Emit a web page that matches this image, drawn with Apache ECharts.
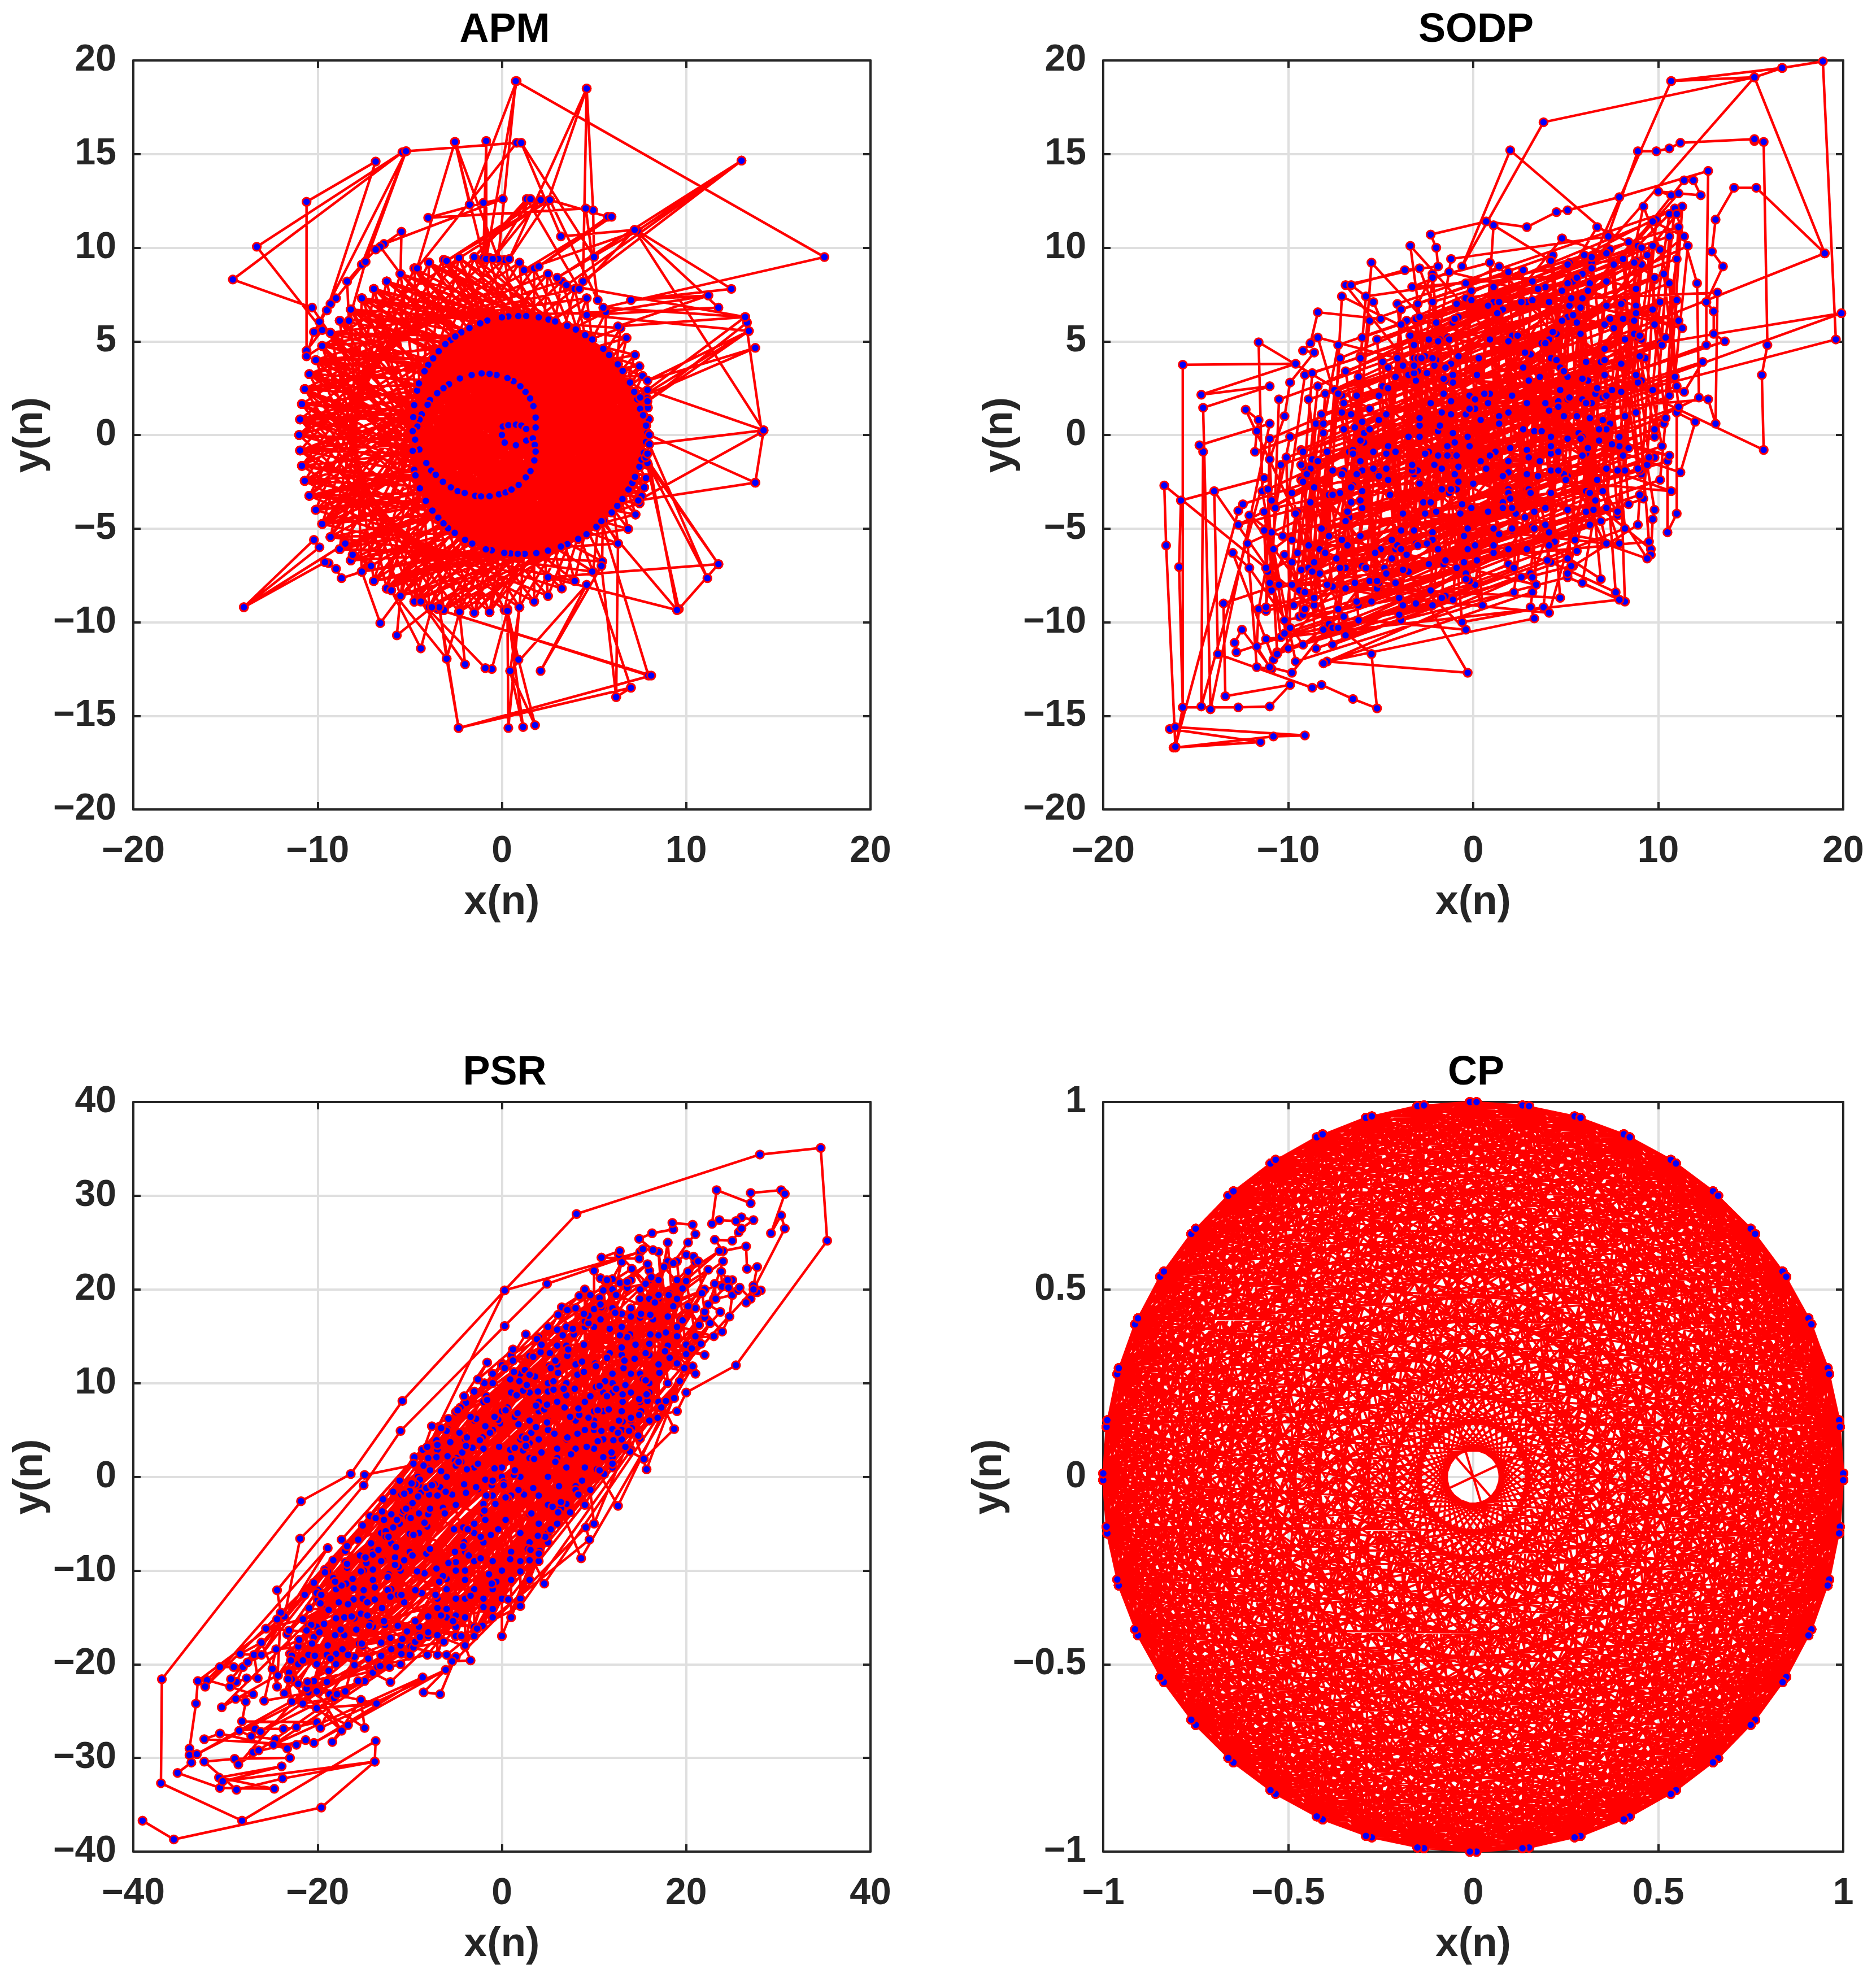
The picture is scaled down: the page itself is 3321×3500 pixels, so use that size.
<!DOCTYPE html>
<html><head><meta charset="utf-8">
<style>html,body{margin:0;padding:0;background:#fff}#c{width:3321px;height:3500px}</style>
<script src="https://cdn.jsdelivr.net/npm/echarts@6/dist/echarts.min.js"></script></head>
<body><div id="c"></div>
<script>
const panelTitles=['APM','SODP','PSR','CP'];
// APM: points as x,y pairs
const apmSpiral=[0,0,.15,-.41,.76,-.55,.05,.45,.35,.52,.76,.55,1.06,.5,1.32,.32,1.32,-.3,1.68,-.18,1.78,-.53,1.83,.4,1.83,.93,1.71,1.54,1.53,1.95,1.28,2.3,1,2.6,.63,2.87,.3,3.04,-.29,3.2,-.67,3.26,-1.1,3.29,-1.64,3.2,-2.28,3.02,-2.87,2.71,-3.17,2.5,-3.51,2.23,-3.9,1.86,-4.03,1.61,-4.35,1.1,-4.47,.82,-4.59,.45,-4.71,-.25,-4.48,-.78,-4.1,-1.5,-3.84,-1.9,-3.59,-2.13,-3.2,-2.5,-2.77,-2.8,-2.4,-3,-2.02,-3.1,-1.45,-3.25,-1.13,-3.28,-.67,-3.27,-.16,-3.17,.2,-3.07,.52,-2.92,.91,-2.67,1.3,-2.26,1.55,-1.93,1.76,-1.36,1.83,-.89];
const apmMid=[7.89,.1,7.82,.5,7.66,1.05,7.5,1.4,7.35,1.9,7.18,2.3,6.95,2.8,6.55,3.42,6.29,3.77,5.82,4.27,5.5,4.6,4.9,5.1,4.52,5.33,4.01,5.63,3.54,5.83,2.89,6.06,2.53,6.16,2,6.28,1.32,6.35,.89,6.35,.35,6.33,0,6.28,-.79,6.11,-1.18,5.96,-1.76,5.71,-2.2,5.48,-2.53,5.26,-2.78,5.07,-3.07,4.85,-3.43,4.47,-3.73,4.09,-4,3.74,-4.2,3.4,-4.5,2.75,-4.6,2.37,-4.76,1.59,-4.81,.95,-4.84,.2,-4.84,-.85,-4.76,-1.86,-4.69,-2.16,-4.45,-2.85,-4.13,-3.52,-3.77,-4.04,-3.45,-4.42,-3.17,-4.72,-2.92,-4.98,-2.56,-5.23,-2,-5.6,-1.61,-5.8,-.87,-6.11,-.55,-6.16,.13,-6.3,.48,-6.33,.86,-6.35,1.24,-6.35,1.87,-6.31,2.5,-6.18,3.2,-5.96,3.55,-5.83,4.14,-5.55,4.59,-5.3,5.13,-4.9,5.52,-4.57,5.96,-4.14,6.26,-3.79,6.54,-3.42,6.87,-2.91,7.08,-2.56,7.22,-2.24,7.46,-1.7,7.58,-1.31,7.7,-.95,7.82,-.37];
const apmMidOrder=[0,1,73,2,72,3,71,4,70,5,69,6,68,7,67,8,66,9,65,10,64,11,63,12,62,13,61,14,60,15,59,16,58,17,57,18,56,19,55,20,54,21,53,22,52,23,51,24,50,25,49,26,48,27,47,28,46,29,45,30,44,31,43,32,42,33,41,34,40,35,39,36,38,37,
6,7,5,8,4,9,3,10,2,11,1,12,0,13,73,14,72,15,71,16,70,17,69,18,68,19,67,20,66,21,65,22,64,23,63,24,62,25,61,26,60,27,59,28,58,29,57,30,56,31,55,32,54,33,53,34,52,35,51,36,50,37,49,38,48,39,47,40,46,41,45,42,44,43,
12,13,11,14,10,15,9,16,8,17,7,18,6,19,5,20,4,21,3,22,2,23,1,24,0,25,73,26,72,27,71,28,70,29,69,30,68,31,67,32,66,33,65,34,64,35,63,36,62,37,61,38,60,39,59,40,58,41,57,42,56,43,55,44,54,45,53,46,52,47,51,48,50,49,
18,19,17,20,16,21,15,22,14,23,13,24,12,25,11,26,10,27,9,28,8,29,7,30,6,31,5,32,4,33,3,34,2,35,1,36,0,37,73,38,72,39,71,40,70,41,69,42,68,43,67,44,66,45,65,46,64,47,63,48,62,49,61,50,60,51,59,52,58,53,57,54,56,55,
24,25,23,26,22,27,21,28,20,29,19,30,18,31,17,32,16,33,15,34,14,35,13,36,12,37,11,38,10,39,9,40,8,41,7,42,6,43,5,44,4,45,3,46,2,47,1,48,0,49,73,50,72,51,71,52,70,53,69,54,68,55,67,56,66,57,65,58,64,59,63,60,62,61,
30,31,29,32,28,33,27,34,26,35,25,36,24,37,23,38,22,39,21,40,20,41,19,42,18,43,17,44,16,45,15,46,14,47,13,48,12,49,11,50,10,51,9,52,8,53,7,54,6,55,5,56,4,57,3,58,2,59,1,60,0,61,73,62,72,63,71,64,70,65,69,66,68,67,
3,4,2,5,1,6,0,7,73,8,72,9,71,10,70,11,69,12,68,13,67,14,66,15,65,16,64,17,63,18,62,19,61,20,60,21,59,22,58,23,57,24,56,25,55,26,54,27,53,28,52,29,51,30,50,31,49,32,48,33,47,34,46,35,45,36,44,37,43,38,42,39,41,40,
15,16,14,17,13,18,12,19,11,20,10,21,9,22,8,23,7,24,6,25,5,26,4,27,3,28,2,29,1,30,0,31,73,32,72,33,71,34,70,35,69,36,68,37,67,38,66,39,65,40,64,41,63,42,62,43,61,44,60,45,59,46,58,47,57,48,56,49,55,50,54,51,53,52,
27,28,26,29,25,30,24,31,23,32,22,33,21,34,20,35,19,36,18,37,17,38,16,39,15,40,14,41,13,42,12,43,11,44,10,45,9,46,8,47,7,48,6,49,5,50,4,51,3,52,2,53,1,54,0,55,73,56,72,57,71,58,70,59,69,60,68,61,67,62,66,63,65,64];
const apmOuter=[7.97,.85,7.92,1.46,7.87,1.96,7.82,2.33,7.63,3.15,7.46,3.67,7.22,4.27,6.76,5.18,6.44,5.71,5.64,6.57,
4.6,7.3,3.95,7.8,3.25,8.2,2.5,8.6,1.75,8.9,.95,9.2,.15,9.35,-.67,9.46,-1.5,9.5,-2.33,9.46,-3.15,9.35,-3.95,9.2,-4.75,8.9,-5.5,8.6,-6.25,8.2,-6.95,7.8,-7.6,7.3,-8.2,6.7,-8.8,6.1,-9.3,5.45,-9.75,4.75,-10.1,4,-10.45,3.25,-10.7,2.45,-10.85,1.65,-10.95,.83,-11,0,
-10.95,-.83,-10.85,-1.65,-10.7,-2.45,-10.45,-3.25,-10.1,-4,-9.75,-4.75,-9.3,-5.45,-8.8,-6.1,-8.2,-6.7,-7.6,-7.3,-6.95,-7.8,-6.25,-8.2,-5.5,-8.6,-4.75,-8.9,-3.95,-9.2,-3.15,-9.35,-2.33,-9.46,-1.5,-9.5,-.67,-9.46,.15,-9.35,.95,-9.2,1.75,-8.9,2.5,-8.6,3.25,-8.2,3.95,-7.8,
4.94,-7.3,5.44,-6.75,6.3,-5.8,6.85,-5.02,7.25,-4.25,7.47,-3.65,7.58,-3.27,7.72,-2.8,7.82,-2.3,7.92,-1.6];
const apmOuterOrder=[0,19,38,57,3,22,41,60,6,25,44,63,9,28,47,66,12,31,50,69,15,34,53,72,18,37,56,2,21,40,59,5,24,43,62,8,27,46,65,11,30,49,68,14,33,52,71,17,36,55,1,20,39,58,4,23,42,61,7,26,45,64,10,29,48,67,13,32,51,70,16,35,54,0,
29,58,14,43,72,28,57,13,42,71,27,56,12,41,70,26,55,11,40,69,25,54,10,39,68,24,53,9,38,67,23,52,8,37,66,22,51,7,36,65,21,50,6,35,64,20,49,5,34,63,19,48,4,33,62,18,47,3,32,61,17,46,2,31,60,16,45,1,30,59,15,44,0];
// pairs: index in apmOuter, index in apmMid
const apmCross=[30,5,24,70,36,10,42,66,20,62,33,2,48,8,27,72,39,14,51,60,22,68,45,12,31,64,35,4,52,58,26,6,41,71,18,16,54,56,29,9,37,0,44,67,23,13,47,61,34,73,40,3,25,63,50,11,21,69,43,7,28,65,38,1,53,59,19,15,46,62,32,70,36,72,42,5,24,10,49,57,30,2,35,68,41,8,27,64,33,12,45,66,22,6,39,60,51,14,26,71,37,4,44,73,31,9,48,69,20,17,55,55,34,1,40,63,29,11,47,58,28,20,36,24,44,52,31,35,42,38,25,22,49,48,33,30,38,41,21,19,53,54,27,27,46,45,35,33,40,43,30,26,23,21,50,50,37,36,32,28,43,47,26,23,48,49];
const apmFar=[-10.3,6.8,-14.6,8.3,-5.4,15.1,-13.3,10.05,-9.75,5.6,-10.6,4.5,-10.6,12.45,-6.85,14.6,-9.5,6.65,-9.9,6.05,-5.2,15.15,-7.4,9.25,-7.6,9.1,-5.2,15.15,.8,15.6,-4.6,8.9,-2.55,15.65,-1,9.45,-.85,15.7,-.85,9.4,.8,18.9,-1.75,12.3,-2.55,15.65,-.2,9.4,.75,18.9,17.5,9.5,5.5,6.8,13.2,6.3,3.5,8,13,14.65,7.35,10.9,3,8.4,13,14.65,4.4,8.2,4.6,18.5,2.5,12.5,.4,9.4,4.6,18.5,4.95,12,5,9.5,1.05,15.6,3.2,10.6,7.2,10.95,4.2,7.8,1.35,12.6,-1.5,9.5,1.55,12.6,-.5,9.4,2.1,12.55,-3,9.3,2.6,12.55,5.2,7.2,4.55,12.1,-4,11.6,-1,12.4,0.05,12.6,-6.4,10.2,-5.45,10.85,-5.5,8.6,-6.6,10.05,-6.85,9.9,-7.6,9.1,-8.4,8.2,-8.3,6.1,-7.4,9.25,-9,7.3,-9.3,7,-9.5,6.65,-10.2,5.5,-10.6,4.2,
2.6,12.55,5.75,11.65,2,9,5.95,11.65,1.2,8.8,7.35,10.9,12.45,7.8,7,7.2,11.2,7.45,4.6,6.4,11.75,6.8,7.2,10.95,14.2,.25,7.9,2.4,13.2,6.3,13.3,6,7.9,1.8,13.4,5.55,7.5,2,13.75,4.65,7.9,2.9,13.4,5.55,4.6,6.4,11.2,7.45,6.3,5.8,13.2,6.3,
14.1,.15,7.4,-3.5,13.75,-2.55,8,0,13.75,-2.55,14.2,.25,8,-.5,11.15,-7.65,7.9,-1.5,11.75,-6.9,7.8,-1.2,9.6,-9.3,11.75,-6.9,2.5,-7.6,9.5,-9.35,7.9,-1,9.5,-9.35,5.4,-4.6,7.95,-12.85,-3.5,-9.3,8.1,-12.85,-2.35,-15.65,-3,-11.95,-3.4,-9.2,-2.35,-15.65,7,-13.5,4.9,-7.3,7,-13.5,6.2,-14,6.3,-5.8,6.2,-14,5.4,-7,2.1,-12.6,4.6,-8,.45,-12.6,.95,-9.2,.35,-15.65,.3,-9.3,1.15,-15.6,.45,-12.6,1.8,-15.5,.9,-12,.3,-9.4,-.55,-12.5,-.9,-12.45,-4.4,-8.9,-2,-12.25,-2.3,-9.45,-3,-11.95,-6,-8.3,-4.4,-11.4,-3.8,-9.2,-5.7,-10.7,-5.5,-8.6,-6.6,-10.05,-7.6,-7.3,-8.7,-7.65,-9,-7.15,-9.4,-6.85,-9.6,-6.8,-14,-9.2,-9.9,-6,-10.2,-5.6,-14,-9.2,-8.5,-5.8,-7.1,-7,-8.1,-6.4];
// SODP path: x,y pairs in visit order
const sodpPath=[-16.1,-16.65,-16.2,-16.7,-11.5,-16.4,-16.4,-15.7,-16.1,-15.6,-9.1,-16.05,-10.8,-16.1,-16.1,-16.7,-15.7,-14.55,-15.9,-7.05,-15.8,-3.5,-11.3,-2.3,-14.7,-14.5,-14.6,-.9,-14.8,-.55,-11,.6,-14.2,-14.65,-14.6,1.45,-11,2.6,-14.7,2.15,-9.6,3.8,-15.7,3.75,-15.7,-14.55,-12.7,-14.55,-11,-14.5,-9.9,-13.35,-13.4,-13.95,-13.5,-9,-10.5,-8,-14,-3,-13.8,-11.7,-8.7,-13.5,-8.2,-13.35,-6.5,-14.1,-5.2,-14.6,-5.5,-11.7,-16.7,-2.7,-16.6,-5.9,-16.1,-16.65,-12.7,-4.05,-12.45,-3.7,-7,-1.9,-12.7,-4.8,-6,-3,-12.2,-5.8,-11.7,-12.4,-10.9,-12.5,-12.5,-10.4,-12.9,-11.1,-12.8,-11.6,-7,-9.7,-12.3,1.35,-11.6,.8,-11.7,.2,-11.8,-.9,-5.6,1.4,-11.6,4.95,-11.4,-3,
-10,-11.4,5.5,-5.6,6.9,3.9,-8.8,-1.8,-8.1,-10.4,7.8,-4.3,8.9,5.2,-7,.3,-6.2,-9.1,9.2,-3.4,10.1,7.1,-6.3,2.1,-5.1,-8.2,7,-3,8.1,6.2,-8.2,1.1,-9.3,-7.2,5.1,-2.2,6.3,8.1,-9.1,3.2,-10.3,-5.4,4.2,-1,5.2,9.2,-7.2,4.1,-8.3,-6.1,3.1,-3.2,4.1,7.1,-10.5,1.9,-10.9,-8.3,2.3,-4.2,3.2,8.2,-8.4,2.6,-9.7,-9.1,6.1,-4.1,7.1,4.6,-10.1,-1.2,-9.9,-10.3,1.1,-6.3,2.1,5.3,-11,-.2,-11.2,-9.4,4.1,-5.2,5.1,6.3,-8.9,1.9,-7.6,-8.1,9.1,-2.1,9.8,8.3,-4.9,3.9,-3.8,-7.2,8.2,-1.9,9.1,9.1,-6.1,4.2,-6.9,-7.1,8.1,-1.1,8.9,10.1,-5.2,5.1,-4.2,-6.1,9.8,-.1,10.6,10.6,-3.1,6.1,-2.2,-5.2,10.3,.6,11.1,11.1,-2.2,7.1,-1.3,-3.1,10.6,2.1,11.3,12.2,-4.1,7,-3.2,-2.1,10.9,3.1,11.6,10.1,-7.1,1.2,-6.2,-9.9,7.2,-3.9,8.1,7.1,-9.3,-.8,-8.5,-11.4,3.1,-7.4,4.2,4.1,-11.1,-2.9,-10.6,-11.6,-1.1,-8.8,-.2,2.1,-11.3,-4.1,-10.4,-10.8,-2.2,-9.1,-1.2,1.1,-10.8,-6.1,-9.6,-12.1,2.2,-8.4,3.3,.2,-11.1,-7.3,-10.2,-9.9,.1,-8,1.2,-.9,-8.9,-5.9,-7.6,-11.2,5.1,-6.6,6.2,2.9,-7.1,-2.1,-6.3,-8.9,3.2,-4.9,4.1,5.1,-8.1,.1,-7.2,-7.1,6.1,-3,7.1,6.9,-5.1,2.1,-4.1,-5.9,7.9,-.6,8.8,9.3,-3.2,4.1,-2.1,-4.1,4.9,-2.1,5.8,6.8,-6.1,-.4,-5.2,-8.2,-.9,-7.1,.1,1.9,-9.8,-3.1,-8.9,-7.1,2.1,-5.1,3.1,4.3,-9.2,-.9,-8.1,-5,4.2,-3.1,5.2,6.9,-7.1,2.1,-6,-3.9,6.1,-1,7.2,8.2,-4.1,4.2,-3,-1.9,8.2,1,9.1,10,-2,6,-1.1,.1,9.1,2.9,9.9,11.5,1.1,7.9,2.1,2.1,10.1,4.9,10.9,12.1,5.1,9.1,6.1,3.9,9.8,5.9,10.6,11.8,8.1,9.3,9.1,5.1,8.1,7.1,9.2,12.2,10.1,9.9,11.1,6.1,7.2,6.9,11,11.8,12.1,8.1,12.2,2,7.9,-.1,8.2,-8.9,5.1,-7.6,-3.9,-9.9,-6.9,-10.7,1.9,-6.1,3.3,-4.1,-5.1,-7.9,-6.2,3.1,-1.9,-1.1,-4.8,-7.1,-8.4,5.2,-4.1,4.1,3.9,-3.9,1.9,-2.9,-6.9,8,-2.9,8.9,2.1,-5,.1,-5.9,-3.1,2.9,-1.2,3.8,1.9,-2,2.9,-2.9,-1.9,.2,-3.1,6.2,.9,5.1,4.2,-6.8,1.1,-5.9,-4.2,-.9,-5.9,.1,2.1,-3.9,.9,-1.1,5.9,1.9,7.1,5.9,2.9,7.1,8.9,2.8,5.1,1.9,.3,4.1,1.9,-3.1,-1,-2.1,3,-2.9,4.2,-1.9,-.1,-3.9,-.9,-2.9,1.1,-5,-2,-4.1,2.9,-.8,3.9,-4.8,2.9,-6.1,-.4,1.1,.9,2.2,5.1,-4,3.1,-3.1,-1.1,6,1.1,7.1,5.9,-1.1,4.2,-.1,-.4,8.1,1.4,9,7,2,5.1,3.1,-1.1,-1.1,-2.9,-.1,1.9,-6.9,-.2,-7.8,-5.2,-2.1,-6.6,1.1,-1.9,-6.1,-3.9,-5.1,-7.2,-3.1,-9,-2.1,-4.2,-7.9,-6,-7,-10.9,-5.2,-12.1,-4.3,-7.8,-10.1,-9.2,-11.2,-12.1,-7.1,-13,-6.3,-10.8,-12,-11.2,-10.9,
7.9,-8.8,5.9,-7.9,7.4,.6,5.1,-7.4,5.4,-7,8.9,-4.8,9,-3.2,-3.5,-7.3,-.3,-12.7,-7.9,-12.1,3.3,-9.8,3.1,-9.2,3.2,-8.4,-8.1,-12.2,2.6,-7.6,3.2,-7.6,5,-2.4,9.6,-6.1,9.6,-6.4,9.7,-4.5,9.8,-4,9.4,-1.6,9.8,-1.2,-5,-6.1,10.5,-1.4,10.5,-5.2,11,-4.2,11,1.2,12,.7,11.2,-2,-4.2,3.1,11.4,2.3,12.4,3.9,-6,-1.9,12.6,4.8,12.6,7.1,13,6.6,13,5.4,13.6,5,1.4,1,12.7,1.9,13.1,.6,13.2,7.6,-.9,7,15.7,-.8,15.6,3.2,15.9,4.8,15.7,15.65,15.2,15.7,15.2,15.8,11.2,15.6,10.6,15.3,9.9,15.15,8.9,15.15,7.3,10.7,2,15.2,-.6,9,3.8,16.7,15.2,19.1,16.7,19.6,10.7,18.9,6.4,9.2,15.2,19.1,19,9.7,4.5,4,19.9,6.5,6.4,1.7,19.6,5.1,18.9,19.95,16.7,19.6,10.7,18.9,15.2,19.1,19,9.7,15.3,13.2,14.1,13.2,13.1,11.5,12.9,9.8,13.5,9,12.6,7.1,12.7,14.1,7.9,12.7,5.1,12,4.5,11.9,2.9,11.1,.7,11.4,-2.3,10.7,-2,10,-1.9,9,-3.7,8.8,-6.6,8,-5.4,7.1,-5,6.2,-8.4,6.55,-8.8,4.9,-9.2,4.5,-8.6,4.4,-9.9,2.8,-10.2,1,-11,-1.3,-10.9,-3.5,-11.3,-5.1,-11.2,-7.1,-11.6,-9.3,-11.7,-11.3,-11,-12.4,-9.8,-12.7,11.4,13.6,11.9,13.6,12.3,12.8,10,13,10.7,12.8,11.1,12.9];
const sodpMore=[-10.6,-11.7,2.2,-7.1,3,2.9,-8.7,-1.3,-7.6,-1.9,9.3,4.1,10.2,-.6,-4.4,-5.6,-3.5,3.2,11,7.2,10.1,-2.4,-5.6,-7.8,-4.7,1.1,7.6,5.7,8.4,-3.7,-11.2,-9.2,-10.4,-1.6,.6,2.2,1.4,-5.3,-6.4,-7.9,-5.6,.3,8.7,5.4,9.5,-1.2,-8.3,-7.4,-7.5,2.4,5.9,7.3,6.7,-2.4,-3.9,-6.1,-3,4.1,10.3,8.6,11.1,1.5,-1.7,-2.9,-.8,6.3,7.6,9.1,8.4,-.7,-9.5,-6.3,-8.7,3.3,2.6,7.1,3.5,-2.2,-6.8,-5.9,-6,5.2,6.4,9.5,7.2,2.1,-4.7,-1.8,-3.9,6.7,4.3,9.6,5.1,-.2,-10.7,-3.9,-9.9,-.1,-1.1,3.2,-.3,-6.1,-8.6,-9.1,-7.8,-3.2,6.1,1.7,6.9,-4.6,-5.5,-8.9,-4.6,-.6,9,4.2,9.8,.3,-2.6,-4.2,-1.8,5.1,9.4,9.6,10.2,4.8,-6.4,-1,-5.6,6.1,1.9,8.7,2.8,-4.4,-3.1,-5.8,-2.3,1.7,8.2,5.1,9,-1.9,-7.4,-6.6,-6.7,-.9,3.6,3.1,4.4,-5.7,-9.4,-9.7,-8.5,.6,-1.2,1.8,-.4,-7.4,-10.2,-10.6,-9.5,-4.1,3.7,.2,4.5,5.4,-8.1,.6,-7.3,4.8,-2.9,6.3,-2.1,-1.6,6.6,2.2,7.4,9.9,-3.4,5.3,-2.7,-3.6,7.2,.3,8,7,-7,1.7,-6.1,-3.5,5.6,1.1,6.4,8.9,-3.8,3.7,-3,-5.9,.8,-4.1,1.6,6.7,-6.9,3.4,-6.1,-1.4,3.9,1.7,4.7,-8.7,-11,-7.9,-10.2,-6.4,-9.4,-8.3,-8.6,-2.8,5.7,.1,6.5,-4,4.6,-1.9,5.4,8.2,-.4,7.3,.4,-1.4,-7.9,-8,-7.1,-5.6,-6.3,-2.1,-5.5,9.2,-.8,4.2,0,-2.6,.8,6.9,1.6,-3.6,-4.6,3.6,-3.8,-4.2,-3,7,-2.2,8.6,-1.4,-.6,-.6,-10,3.8,-9.2,4.6,-.9,5.9,-.1,-3.4,10.1,-2.6,4.2,1.9,5,9.4,-6.6,7.1,-5.8,1.3,6.5,5.3,7.3,-.4,-7.7,-1.6,-6.9,2.4,5.3,8.6,6.1,4.1,-9.5,-4,-8.7,-1.1,2.8,4.7,3.6,7.9,-5.8,3.3,-5,-2.9,-2.6,7.2,-1.8,10.7,-3,1.6,-2.2,-8.2,-5,-.7,-4.2,8.8,6.9,6.2,7.7,-4.9,2.6,-3,3.4,7.5,-.5,2.7,.3,-9.8,-8,-3.8,-7.2,6.3,.9,2.9,1.7,-6.5,-2.7,-3.3,-1.9,9.7,2.4,7.1,3.2,-2.4,-.9,-3.5,-.1,8.8,7.8,5.9,8.6,-3.3,7.9,-1.3,8.7,11.3,5.7,8.8,6.5,.7,-1.8,-2.6,-1,11.4,10.6,9.7,11.4,.1,1.4,-1.6,2.2,10.6,-1.1,6.8,-.3,-6.7,-4.4,-8.8,-3.6,1.4,.6,-.2,1.4,-7.6,-3.2,-9.3,-2.4,2.8,4.4,-1.4,5.2,-2,4,-3.2,4.8,8.4,10.3,6.7,11.1,-.9,-1.1,-6,-.3,5.4,6.4,3.2,7.2,-9.2,-2.5,-9.2,-1.7,.8,1.7,6.7,2.5,-5.9,-.4,-6.4,.4,9.8,8.4,8.7,9.2,-1.5,2.9,-2.1,3.7,7.2,9.7,4.8,10.5,-5.4,-1.8,-4.7,-1,5.8,5.4,7.4,6.2,-3.2,3.3,-2.8,4.1,1.4,7.1,3.9,7.9,7.2,-5.8,-.3,-5,-4.7,-7.4,-4.4,-6.6,-.4,-10.4,-9.2,-9.6,-6.1,-.3,-1.8,.5,-2.3,-3.6,-6.6,-2.8,7.8,-1.9,-1.4,-1.1,-5.1,-2.2,1.9,-1.4,-1.2,-2.9,2.9,-2.1,1.9,1.2,5.2,2,-3.1,-9,-6.9,-8.2,-1.5,-8.6,-5.2,-7.8,-3.6,-6.4,-9.8,-5.6];
const sodpExtra=[-9.6,-4.2,5.6,1,6.3,-4.7,-7.3,-9.3,-6.5,-.8,8.1,3.8,8.9,-1.8,-2.2,-5.6,-1.5,3.6,10.6,8.1,11,2.6,-.8,-1.7,-.1,7.7,6,9.6,6.8,.3,-6.8,-4.1,-6.1,4.1,3.5,7.8,4.2,-.6,-8,-6.3,-7.3,2.2,-3.2,3.7,-2.5,-5.8,-9.1,-8.4,-8.4,-1.4,4.9,3.4,5.6,-6.2,-4,-9.6,-3.3,-1.6,7.5,2.4,8.2,-5,-1.7,-8.7,-1,-.4,4.6,1.8,5.3,-7,-7.6,-10.3,-6.9,-4.6,2,-.7,2.7,8.8,-3.6,6.1,-2.9,.5,5.9,3,6.6,-3.5,-2.4,-6.9,-1.7,1.2,10.4,5.2,11,9.4,-1.3,5.1,-.6,-3.7,3.6,-1.4,4.3,5.5,-4.6,2.5,-3.9,-5.1,-8.7,-7.3,-8,2.2,-1.9,5,-1.2,9.4,7.3,10.6,8,3.8,-2.9,.9,-2.2,8.4,.9,9.2,1.6,-3.9,-6.1,-5.4,-5.4,-.9,-9.3,-1.6,-8.6,-6.8,-3.2,-5.1,-2.5,3.3,9.7,6.7,10.4,.9,-4.5,-3.2,-3.8,-9.1,-7.3,-10.3,-6.6,-3.6,4.1,1.3,4.8,7.7,-1,6.2,-.3,-.1,8.8,3.2,9.5,-5.7,-5.8,-7.1,-5.1,.8,3,-1.2,3.7,4.9,5.6,6,6.3,-4.8,-8.6,-8.7,-7.9,-.9,8,2.3,8.7,6.1,-6,.7,-5.3,-6.3,-9.8,-6.8,-9.1,-9.3,-.8,-2.5,-.1,7.2,3.9,4.9,4.6,1.5,-4.6,-2.4,-3.9,5.9,5.1,8.1,5.8,-.2,-2.2,4.1,-1.5,-6.7,-6.5,-1,-5.8,7.4,8.1,9.4,8.8,1.2,-.2,-.6,.5,-9.1,-.5,-6.8,.2,3.2,2.7,3.6,3.4,-8,-7.8,-5.4,-7.1,7.4,-2.4,5.1,-1.7,-1.8,7,.8,7.7,-8.4,4,-6.7,4.7,2.4,9,5.3,9.7,10.1,5.6,8.4,6.3,-3.1,-.5,-5.4,.2,-6.7,-2.3,-8.3,-1.6,3,.4,.8,1.1,11.2,4.2,9.3,4.9,1,6.2,-.7,6.9,-7.7,4.1,-5.9,4.8,6.1,7.1,4,7.8,-4.1,2,-3.4,2.7];
// PSR path
const psrPath=[-39,-36.7,-35.6,-38.7,-19.6,-35.3,-13.8,-30.4,-13.7,-28.2,-28.2,-36.7,-37,-32.7,-36.9,-21.6,-21.8,-2.6,-16.4,.3,-10.8,8.1,.3,19.9,8.1,28.05,28,34.4,34.6,35.1,35.3,25.2,25.4,11.9,20,9,19,7,-14.9,.2,-21.9,-6.6,-23.6,-14.9,-33,-21.8,-33.2,-24.2,-33.9,-29,-33.9,-29.7,-33.7,-30.5,-35.2,-31.6,-30.6,-33.2,-24.7,-33.3,-30.7,-32.1,-23.9,-30.9,-30.3,-32.5,-13.8,-30.4,-23.8,-32.2,-28.8,-33.4,-32.3,-30.4,-29,-30.1,-23,-30,-23.3,-29,-30.6,-27.4,-32.3,-28,-22.3,-28.6,-21.3,-28.1,-27,-29.4,-26.4,-29.2,-24.6,-28,-27.2,-27.7,-28.5,-27.1,-26.8,-26.9,-23.7,-26.9,-22.3,-26.7,-20.1,-26.2,-28.2,-26.1,-27.8,-24,-28.9,-23.7,-27,-23.2,-29.5,-22.4,-32,-21.7,-30.6,-20.3,-29.1,-20.3,-28.1,-20.3,-28.8,-21.9,-27.7,-21.5,-26.5,-21.5,-26.9,-19,-28.4,-18.9,-26.1,-17.7,-24.9,-20.5,-24.4,-22.4,-24,-14.5,-24.4,-12.1,-15,-.9,-11,4.9,.3,16.1,4.9,20.6,15,24,.3,19.9,
-21,-23,-6,-10.8,10,5,20,14.1,8.2,10.9,-8.1,-4.1,-19,-14.1,-22.1,-20,-5,-14.9,12.1,3.9,22,20,9.1,14.1,-6.1,0,-17,-9.1,-20.4,-17.1,-4,-13,13.1,5.9,21,18,7.1,12.9,-7.9,-1.9,-18,-12,-23,-18.9,-7,-16.9,11,2.1,19,15.9,6.1,11.1,-9,-3.9,-15,-10,-22.1,-22.1,-8.1,-19,9,.9,18.1,12.9,5,9.1,-10,-6.1,-16.1,-11.9,-20.1,-20,-9.9,-18.1,8.1,-.9,17.1,11.1,4.1,8.1,-11.9,-7,-14,-8,-19,-21.9,-11,-20,7,-2.9,16,9,3.1,6,-12.9,-8.9,-13.1,-6,-18,-18.9,-12.1,-21.9,6.1,-4.9,15.1,7,2,4.1,-14,-9.9,-12,-4,-17.1,-16.9,-13.1,-19.1,5,-6,14,6.1,1.1,2.9,-15,-12.1,-10.9,-1.9,-16,-15.1,-14,-20.9,4.1,-7.9,13.1,8,0,1,-16.1,-13.1,-9.1,0,-15.1,-13,-15.1,-18.1,3,-8.9,12,10,-1.1,-.9,-17.1,-15,-8,2,-14,-11,-16,-20.1,2,-10.1,11,9.1,-2,-2.9,-18.1,-16.9,-7.1,3.9,-13.1,-9,-17,-22.9,1.1,-11,10.1,7,-3,-5,-19.1,-18.9,-5.9,5.1,-12,-7.1,-18,-20,0,-12.9,9,5,-4.1,-7,-20,-13.1,-5,6.9,-11.1,-5,-18.9,-18,-1,-14.1,8,3.1,-5,-9.1,-21,-15.9,-3.9,7.9,-10,-3.1,-20.1,-16,-2.1,-15.9,7,1.1,-6,-10.9,-22.1,-18.1,-3,9.1,-9,-1,-20.9,-14,-3,-17,6,-1.1,-7,-13,-23.1,-20.9,-1.9,10,-8.1,1,-19.9,-12.1,-4,-18.1,5,-3,-8,-14.9,-21,-19,-1,11,-7,2.9,-18.9,-10.1,-5,-16,4,-5,-9,-16.9,-19.9,-23,0,12.1,-6,4.9,-17,-7.9,-6,-14.1,3.1,-6.9,-10.1,-19.1,
21,23,10.1,12.1,-5,-3,-14,-16,-5.1,-8,11,7,22,17,24,23,13,15,-4,-1,-13,-14,-4,-10,12,5.1,23,19,25,21,14,17.1,-3,1,-12,-12,-3,-12,13,7,21,15,20,21,15,19,-2,3,-11,-10,-2,-14,14,9,20,13,19,23,16,21,-1,5,-10,-8,-1,-12,15,11,19,12.1,18,25,17,19,0,7,-9,-6,0,-10,16,13.1,18,10,17,24,18,17,1,9,-8,-4,1,-8,17,15.1,17,8,16,22,19,15,2,10.9,-7,-2,2,-6,18,17,16,6,15,20,20,13.1,3,12.9,-6,0,3,-4,19,19,15,4.1,14,18,21,11,4,14.9,-4.9,2,4,-2,20,20.9,14,2.9,13,16,22,13,5,16,-4,4,5,0,21,22.9,12,1,12,18,23,15,6,14,-3,6,6,2,19,21,13,5,11,20,18,17.1,7,16,-2,8,7,4,18,23,10,3,10,22,16,13,8,18,-1,10,8,6,17,21,9,1,9,20,14,11,9,16,0,11.9,9,8,16,19,8,-1,8,18,12,9,10,17.9,1,13,10,6,15,17,7,-2.9,7,14,10,7,11,19.9,2,11,11,4,14,15,6,-5,6,12,9,5,12,21.1,3,9,12,2.1,13,13,5,-7,5,10,8,3,13,22.9,4,7,13,4,12,11,4,-9,4,8,7,1,14,21,5,5,14,6,11,9,3,-11,3,6,6,-1,12,20,6,3,15,8,10,7,2,-13,2,4,5,-3,11,18,7,1,16,10,9,5,1,-15,1,2,4,-5,10,16,8,-1,17,12,8,3,0,-17,0,0,3,-7,9,14,9,-3,18,14,7,1,-1,-15,-1,-2,2,-9,8,12,10,-5,19,16,6,-1,-2,-13,-2,-4,1,-11,7,10,-1,-9,-3,-16,-3,-6,0,-13,6,8,-2,-7,-4,-18,-4,-8,-1,-12,5,6,-3,-9,-5,-17,-5,-10,-2,-14,4,4,-4,-11,-6,-15,-6,-12,-3,-16,3,2,-5,-13,-7,-19,-7,-14,-4,-15,2,0,-6,-12,-8,-17,-9,-16,-5,-17,1,-2,-7,-14,-10,-19,-11,-18,-6,-19,
9.5,-6.7,9.1,-5.4,-8.5,-23,-6.7,-23.2,-5,-19.2,-5.4,-19.7,-3.4,-19.6,-4.4,-17,2,-13.8,13.9,2.7,15.4,1.9,18.7,5.1,10.7,21.2,13.6,20.2,15.6,20.6,17,19.4,12.7,23.7,12.8,24.1,10.8,23.4,14.9,23.3,15.3,24.3,16.4,24.2,14.9,25.4,16.3,26,18.6,26.4,18.5,27.1,20.7,26.9,21,25.9,20.2,25,18.6,22.8,20,23.7,20.8,23.5,21.3,23,22,17.6,23.9,15.5,24.7,17.1,25,19.4,23.2,19,23.1,20.6,24.5,21,23.8,21.9,23.9,20.3,24.6,20.2,25.6,19.9,25.8,20.2,27,19,26.5,18.6,28.1,19.9,27.7,19.7,27.3,20.4,27.7,22.4,26.6,22.2,26.5,24.6,24,24.1,23.1,25.3,25,25.2,25.7,26.1,26,26.5,27.3,27.4,26,27.7,25.4,27.3,23.6,27.4,22.8,27,23.3,30.6,27,29.2,27,30.3,30.3,30.6,30.7,30.2,29.2,26,30.3,27.9,30.7,26.5,27.3,20];
const psrMore=[-5,-14.8,12,1.4,14,6.3,-12,-18.4,-16,-19.2,10,5.5,16,14.2,-19,-19,-18,-15.1,7,8.7,13,17.4,-14,-8.3,-10,-1.5,9,16.6,6,15.7,-7,3.4,-2,-13.9,4,-8.2,8,-1.4,-8,-16.6,-13.5,-20.3,5.5,-3.2,7.5,2.4,-15.5,-17.8,-17.5,-16.3,3.5,1.9,5.6,9.3,-11.5,-7.5,-8.5,1.2,3.4,12.8,1.2,12.4,-8.6,2.9,-4.5,7.4,6.5,18.1,8.4,19.3,-9.5,2.1,-13,-3.7,2.5,11.4,4.6,7.2,-16.7,-13.6,-20.6,-17.8,-1.8,-.3,.4,-4.6,-12.7,-15.8,-10.8,-17.3,3.2,-3.9,6.2,-1,-10.3,-16.5,-7.2,-12.6,9.2,3.2,11.6,7.2,-6.4,-10.6,-9.4,-15.4,10.4,3.8,15.3,10.4,2.1,-1.6,-2.3,-8.7,15.8,8.1,18.2,12.7,-.4,-5.6,-7.1,-9.8,12.4,9.4,14.4,12.6,-1.7,-2,-5.2,-5.6,11.2,10.2,13,13.8,.9,2.9,-2.6,-1.3,14.5,14.1,16.4,16.8,2.2,4.3,-.8,.9,13.2,11.6,12.3,17.5,-.2,5.7,-4.4,1.6,11.7,15.8,10.6,19.1,-2.8,6.2,-6.7,-1.1,8.7,12.3,7.8,15.2,-5.6,3.7,-10.8,-3.9,5.6,10.2,4.2,13.3,-7.8,.7,-12.6,-6.1,3.7,7.6,2.3,9.2,-9.7,-2.8,-14.7,-9.2,1.8,5.6,-.4,6.1,-11.8,-5.4,-16.9,-11.4,-.3,3.2,-2.1,4.2,-13.4,-7.8,-18.8,-14.2,-2.6,1.4,-4.3,2.6,-15.3,-10.1,-20.7,-15.8,-4.1,-.8,-6.6,.6,-17.4,-11.6,-22,-17.4,-6.4,-3.3,-8.8,-1.7,-19.7,-13.5,-22.8,-21.6,-9.6,-6.2,-10.7,-3.6,-21.2,-16.4,-23.6,-23.1,-11.2,-9.6,-12.6,-5.8,-22.8,-19.1,-24.3,-21.2,-13.8,-11.8,-15.4,-8.4,-23.3,-16.8,-21.7,-24.1,-14.6,-13.4,-16.8,-9.7,-20.4,-21.8,-18.7,-23.2,-12.8,-15.4,-11.3,-12.6,2.4,-1.9,4.7,-6.4,-9.6,-18.2,-6.3,-17.6,7.4,-3.8,9.6,-1.4,-5.3,-15.4,-2.7,-16.2,11.1,.3,13.4,3.2,-.6,-11.2,.7,-13.1,14.8,4.4,17.8,8.1,2.8,-7.7,4.6,-11.4,16.9,6.3,19.3,10.2,6.4,-3.4,8.6,-8.7,18.7,8.4,20.7,11.8,10.3,.8,12.6,-3.1,19.8,11.6,21.6,14.2,14.1,5.2,15.7,.8,20.6,13.7,22.6,16.4,17.3,7.4,14.9,6.6,22.4,18.4,23.7,17.6,15.7,8.8,12.6,4.7,21.4,16.2,20.2,18.2,13.3,12.4,10.2,9.6,19.6,20.1,17.6,22.4,11.7,13.2,7.8,9.3,18.2,19.6,16.2,21.3,9.4,16.4,5.1,11.8,16.6,18.6,14.1,22.2,7.1,17.8,1.9,10.2,15.8,22.7,12.8,20.7,3.8,14.7,-1.6,5.1,12.4,19.4,10.7,16.8,1.3,11.2,-3.8,4.2,10.8,18.1,8.9,14.1,-1.7,8.6,-5.8,6.2,9.4,17.2,5.8,12.4,-3.4,6.4,-8.9,-.3,7.2,13.6,3.6,10.7,-5.9,2.2,-10.6,-1.8,5.3,11.6,.6,7.4,-8.2,-1.2,-12.8,-4.6,2.7,9.8,-1.3,4.7,-10.4,-3.4,-14.2,-7.1,.4,7.1,-3.2,3.1,-12.6,-6.4,-16.8,-9.3,-1.8,5.4,-5.1,1.7,-14.8,-8.6,-18.3,-10.8,-3.9,3.3,-7.3,-.8,-16.2,-10.9,-20.1,-12.4,-7.6,-.9,-10.2,-4.3,-19.6,-12.6,-21.6,-15.2,-8.2,-8.2,-11.6,-8.6,-20.3,-19.1,-22.9,-19.6,-8.7,-12.4,-12.3,-10.4,-17.3,-18.4,-19.8,-16.6,-4.2,-5.4,-7.8,-7.7,3.2,4.7,.2,-.6,-8.4,-10.3,-10.6,-13.4,1.3,.2,4.3,2.6,-4.2,-7.4,-6.8,-11.2,5.8,1.6,8.4,6.6,-1.8,-4.6,-3.6,-8.3,8.3,7.3,10.6,9.7,.6,-2.3,-2.3,-6.4,3,3.6,1.4,6.4,
-30.4,-24.6,-15.8,-16.3,-28.6,-30.7,-9.4,-17.6,-33.1,-29.6,-14.5,-19.4,-26.2,-27.2,-12.2,-20.3,-24.8,-28.6,-8.6,-21.4,-20.4,-28.4,-6.1,-20.6,-19.7,-26.8,-18.2,-23.6,-21.6,-24.2,-16.7,-26.5,-18.4,-28.3,-15.3,-23.8,-14.9,-26.8,-21.2,-22.6,-13.6,-24.2,-20.1,-24.7,-14.9,-21.8,-22.8,-24,-23.2,-21.6,-17.4,-27.1,-20.1,-22.9,-25.8,-23.9,-24.5,-18.4,-12.1,-17.2,-25.6,-16.2,-9.4,-12.1,-27.6,-19.8,-16.8,-7.4,-29.4,-21.6,-19.2,-9.9,-32.2,-22.4,-18.9,-7.6,-26.1,-19,-15.1,-5.2,-24.4,-15.2,-14.3,-4.2,-23.1,-16.4,-12.9,-2.4,-21.4,-12.6,-11.1,-.4,-20.4,-11.3,-9.6,1.4,-19.2,-10.2,-8.1,3.2,-18.3,-8.9,-6.6,5.2,-17.4,-6.7,-4.8,7.1,-4.1,8.6,-1.6,12.2,-2.6,10.4,1.2,13.6,.3,11.6,2.6,15.2,4.3,14.1,6.1,17.3,7.7,15.8,9.6,19.4,10.7,18.4,11.4,21,13.6,20.8];
const psrExtra=[-9.2,-10.1,5.7,4.6,3.4,-1.2,-11.3,-15.9,-13.8,-13.1,1.4,.7,-.7,-2.9,-15.2,-17.8,-17.7,-13.4,-2.8,-1.1,-5,1.2,-18.1,-11.2,-16.3,-14.9,-1,-.4,7.1,4.2,15.6,13.2,13.4,9.8,1.8,-1.4,-3.7,-5.6,11.4,8.6,9.4,6.3,-5.8,-9.2,-10.9,-12.6,6.8,7.4,8.9,11.2,-8.1,-5.3,-12.4,-10.7,4.8,5.9,6.7,9.4,-6.2,-3.8,-10.6,-8.9,2.6,4.1,4.9,7.7,-8.4,-4.9,-14.3,-15.6,.4,-2.2,2.3,2.8,-11.6,-9.4,-13.1,-17.7,-1.9,-3.6,.2,-.9,-15.3,-14.6,-18.6,-19.4,-3.6,-8.4,-1.2,-6.2,10.8,4.9,13.1,8.8,15.6,10.3,17.8,15.4,19.4,16.8,17.7,13.4,14.9,8.3,12.7,6,6.4,-2.7,8.7,-.4,13.8,4.9,11.9,2.6,3.9,-6.3,6.1,-3.8,10.6,.7,8.3,-1.9,-1.4,-10.4,.9,-8.8,5.3,-5.6,3.1,-7.8,-3.4,-12.7,-1.1,-11.4,-6.6,-14.8,-8.9,-17.1,-13.2,-20.2,-10.9,-18.9,-15.6,-21.8,-17.9,-23.2,-21.1,-21.9,-18.8,-20.7,-14.4,-15.9,-16.7,-19,-21.6,-19.6,-19.3,-15.7,-12.4,-12.1,-14.6,-14.8,-9.7,-8.4,-12.1,-12.8,-3.9,-1.7,-6.2,-3.9,4.9,5.8,2.6,3.3,10.2,11.8,7.9,9.4,16.1,17.3,13.9,15.2,21.7,19.6,19.6,16.7,22.4,22.1,18.1,19.4,23.6,24.1,20.2,21.9,16.1,15.2,18.6,18.2,11.4,12.7,13.6,14.9,8.2,4.6,10.4,7.1,1.7,6.8,3.9,9.1,-2.4,3.9,-4.7,1.6,-9.1,-2.1,-11.4,-4.6,-5.4,-1.9,-7.8,-3.4,3.7,5.3,1.4,3.1,9.6,8.6,7.4,6.4,12.8,15.1,15.1,17.4,8.9,17.4,6.6,15.1,1.6,8.7,-.8,6.4,-6.1,-1.6,-3.8,.8,5.2,13.2,3,10.9,-4.6,4.7,-7.1,2.1,-11.8,-1.6,-9.4,-.8,.9,10.4,-1.6,8.2,-7.6,5.4,-9.8,-.7,-13.7,-4.4,-15.6,-6.7,-9.9,-4.4,-12.3,-6.4];
// CP: rings of visited positions and visit orders
const cpRingA=[1,.009,.989,.151,.958,.29,.906,.423,.836,.548,.75,.662,.648,.762,.534,.846,.407,.914,.274,.962,.133,.991,-.009,1,-.151,.989,-.29,.958,-.423,.906,-.548,.836,-.662,.75,-.762,.648,-.846,.534,-.914,.407,-.962,.274,-.991,.133,-1,-.009,-.989,-.151,-.958,-.29,-.906,-.423,-.836,-.548,-.75,-.662,-.648,-.762,-.534,-.846,-.407,-.914,-.274,-.962,-.133,-.991,.009,-1,.151,-.989,.29,-.958,.423,-.906,.548,-.836,.662,-.75,.762,-.648,.846,-.534,.914,-.407,.962,-.274,.991,-.133];
const cpRingB=[1,-.009,.991,.133,.962,.274,.914,.407,.846,.534,.762,.648,.662,.75,.548,.836,.423,.906,.29,.958,.151,.989,.009,1,-.133,.991,-.274,.962,-.407,.914,-.534,.846,-.648,.762,-.75,.662,-.836,.548,-.906,.423,-.958,.29,-.989,.151,-1,.009,-.991,-.133,-.962,-.274,-.914,-.407,-.846,-.534,-.762,-.648,-.662,-.75,-.548,-.836,-.423,-.906,-.29,-.958,-.151,-.989,-.009,-1,.133,-.991,.274,-.962,.407,-.914,.534,-.846,.648,-.762,.75,-.662,.836,-.548,.906,-.423,.958,-.29,.989,-.151];
const cpOrderA=[0,21,42,19,40,17,38,15,36,13,34,11,32,9,30,7,28,5,26,3,24,1,22,43,20,41,18,39,16,37,14,35,12,33,10,31,8,29,6,27,4,25,2,23,0,
19,38,13,32,7,26,1,20,39,14,33,8,27,2,21,40,15,34,9,28,3,22,41,16,35,10,29,4,23,42,17,36,11,30,5,24,43,18,37,12,31,6,25,0,
17,34,7,24,41,14,31,4,21,38,11,28,1,18,35,8,25,42,15,32,5,22,39,12,29,2,19,36,9,26,43,16,33,6,23,40,13,30,3,20,37,10,27,0,
15,30,1,16,31,2,17,32,3,18,33,4,19,34,5,20,35,6,21,36,7,22,37,8,23,38,9,24,39,10,25,40,11,26,41,12,27,42,13,28,43,14,29,0,
13,26,39,8,21,34,3,16,29,42,11,24,37,6,19,32,1,14,27,40,9,22,35,4,17,30,43,12,25,38,7,20,33,2,15,28,41,10,23,36,5,18,31,0,
9,18,27,36,1,10,19,28,37,2,11,20,29,38,3,12,21,30,39,4,13,22,31,40,5,14,23,32,41,6,15,24,33,42,7,16,25,34,43,8,17,26,35,0,
7,14,21,28,35,42,5,12,19,26,33,40,3,10,17,24,31,38,1,8,15,22,29,36,43,6,13,20,27,34,41,4,11,18,25,32,39,2,9,16,23,30,37,0,
5,10,15,20,25,30,35,40,1,6,11,16,21,26,31,36,41,2,7,12,17,22,27,32,37,42,3,8,13,18,23,28,33,38,43,4,9,14,19,24,29,34,39,0,
3,6,9,12,15,18,21,24,27,30,33,36,39,42,1,4,7,10,13,16,19,22,25,28,31,34,37,40,43,2,5,8,11,14,17,20,23,26,29,32,35,38,41,0,
1,2,3,4,5,6,7,8,9,10,11,12,13,14,15,16,17,18,19,20,21,22,23,24,25,26,27,28,29,30,31,32,33,34,35,36,37,38,39,40,41,42,43,0,
11,22,33,0,1,12,23,34,1,2,13,24,35,2,3,14,25,36,3,4,15,26,37,4,5,16,27,38,5,6,17,28,39,6,7,18,29,40,7,8,19,30,41,8,9,20,31,42,9,10,21,32,43,10,
3,25,13,35,16,38];
const cpOrderB=[0,20,40,16,36,12,32,8,28,4,24,0,1,21,41,17,37,13,33,9,29,5,25,1,2,22,42,18,38,14,34,10,30,6,26,2,3,23,43,19,39,15,35,11,31,7,27,3,
0,18,36,10,28,2,20,38,12,30,4,22,40,14,32,6,24,42,16,34,8,26,0,1,19,37,11,29,3,21,39,13,31,5,23,41,15,33,7,25,43,17,35,9,27,1,
0,16,32,4,20,36,8,24,40,12,28,0,1,17,33,5,21,37,9,25,41,13,29,1,2,18,34,6,22,38,10,26,42,14,30,2,3,19,35,7,23,39,11,27,43,15,31,3,
0,14,28,42,12,26,40,10,24,38,8,22,36,6,20,34,4,18,32,2,16,30,0,1,15,29,43,13,27,41,11,25,39,9,23,37,7,21,35,5,19,33,3,17,31,1,
0,12,24,36,4,16,28,40,8,20,32,0,1,13,25,37,5,17,29,41,9,21,33,1,2,14,26,38,6,18,30,42,10,22,34,2,3,15,27,39,7,19,31,43,11,23,35,3,
0,10,20,30,40,6,16,26,36,2,12,22,32,42,8,18,28,38,4,14,24,34,0,1,11,21,31,41,7,17,27,37,3,13,23,33,43,9,19,29,39,5,15,25,35,1,
0,8,16,24,32,40,4,12,20,28,36,0,1,9,17,25,33,41,5,13,21,29,37,1,2,10,18,26,34,42,6,14,22,30,38,2,3,11,19,27,35,43,7,15,23,31,39,3,
0,6,12,18,24,30,36,42,4,10,16,22,28,34,40,2,8,14,20,26,32,38,0,1,7,13,19,25,31,37,43,5,11,17,23,29,35,41,3,9,15,21,27,33,39,1,
0,4,8,12,16,20,24,28,32,36,40,0,1,5,9,13,17,21,25,29,33,37,41,1,2,6,10,14,18,22,26,30,34,38,42,2,3,7,11,15,19,23,27,31,35,39,43,3,
0,2,4,6,8,10,12,14,16,18,20,22,24,26,28,30,32,34,36,38,40,42,0,1,3,5,7,9,11,13,15,17,19,21,23,25,27,29,31,33,35,37,39,41,43,1];
// tick settings
const xTicks=[[-20,20,10],[-20,20,10],[-40,40,20],[-1,1,.5]];
const yTicks=[[-20,20,5],[-20,20,5],[-40,40,10],[-1,1,.5]];

const pairs=a=>{const r=[];for(let i=0;i+1<a.length;i+=2)r.push([a[i],a[i+1]]);return r;};
const visit=(order,ring)=>{const p=pairs(ring);return order.map(i=>p[i]);};
const cross=()=>{const o=pairs(apmOuter),m=pairs(apmMid),r=[];for(let i=0;i+1<apmCross.length;i+=2){r.push(o[apmCross[i]],m[apmCross[i+1]]);}return r;};
const panelData=[
  [...pairs(apmSpiral),...visit(apmMidOrder,apmMid),...visit(apmOuterOrder,apmOuter),...cross(),...pairs(apmFar)],
  [...pairs(sodpPath),...pairs(sodpMore),...pairs(sodpExtra)],
  [...pairs(psrPath),...pairs(psrMore),...pairs(psrExtra)],
  [...visit(cpOrderA,cpRingA),...visit(cpOrderB,cpRingB)]
];
const boxes=[[236,107,1305,1326,174],[1953,107,1310,1326,174],[236,1951,1305,1327,174],[1953,1951,1310,1327,188]];
const lineWidths=[4.5,4.5,4.5,4];
const FONT='"Liberation Sans"',DARK='#262626';
const fmt=v=>String(v).replace('-','\u2212');
const grids=[],xs=[],ys=[],titles=[],series=[];
boxes.forEach((b,i)=>{
  grids.push({left:b[0],top:b[1],width:b[2],height:b[3],show:false,containLabel:false});
  const [xa,xb,xi]=xTicks[i],[ya,yb,yi]=yTicks[i];
  const base={axisLine:{onZero:false,lineStyle:{color:DARK,width:4}},axisTick:{inside:true,length:13,lineStyle:{color:DARK,width:4}},
    minorTick:{show:false}};
  const lab={fontFamily:FONT,fontWeight:'bold',fontSize:66,color:DARK,formatter:fmt,hideOverlap:false,showMinLabel:true,showMaxLabel:true};
  const nm={fontFamily:FONT,fontWeight:'bold',fontSize:73,color:DARK};
  const sl={show:true,lineStyle:{color:'#dfdfdf',width:4}};
  xs.push({type:'value',gridIndex:i,position:'bottom',min:xa,max:xb,interval:xi,...base,axisLabel:{...lab,margin:42},splitLine:sl,name:'x(n)',nameLocation:'middle',nameGap:128,nameTextStyle:nm});
  xs.push({type:'value',gridIndex:i,position:'top',min:xa,max:xb,interval:xi,...base,axisLabel:{show:false},splitLine:{show:false}});
  ys.push({type:'value',gridIndex:i,position:'left',min:ya,max:yb,interval:yi,...base,axisLabel:{...lab,margin:30,padding:[30,0,0,0]},splitLine:sl,name:'y(n)',nameLocation:'middle',nameGap:b[4]-36,nameRotate:90,nameTextStyle:nm});
  ys.push({type:'value',gridIndex:i,position:'right',min:ya,max:yb,interval:yi,...base,axisLabel:{show:false},splitLine:{show:false}});
  titles.push({text:panelTitles[i],left:b[0]+b[2]/2,top:i<2?13:1859,textAlign:'center',textStyle:{fontFamily:FONT,fontWeight:'bold',fontSize:72,color:'#000'}});
  series.push({type:'line',name:panelTitles[i],xAxisIndex:2*i,yAxisIndex:2*i,data:panelData[i],clip:false,smooth:false,
    lineStyle:{color:'#ff0000',width:lineWidths[i]},symbol:'circle',symbolSize:14.5,showSymbol:true,
    itemStyle:{color:'#0000ff',borderColor:'#ff0000',borderWidth:3},emphasis:{disabled:true},silent:true,animation:false,progressive:0});
});
const chart=echarts.init(document.getElementById('c'),null,{renderer:'canvas',devicePixelRatio:1});
chart.setOption({animation:false,backgroundColor:'#fff',title:titles,grid:grids,xAxis:xs,yAxis:ys,series,tooltip:{show:false}});
</script></body></html>
